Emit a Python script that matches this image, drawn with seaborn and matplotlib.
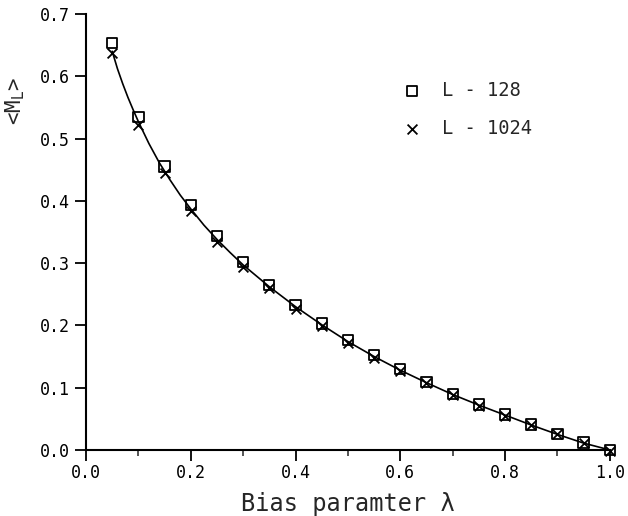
import numpy as np
import pandas as pd
import matplotlib
matplotlib.use("Agg")
import matplotlib.pyplot as plt
import seaborn as sns
from matplotlib.ticker import MultipleLocator

lam = [0.05, 0.10, 0.15, 0.20, 0.25, 0.30, 0.35, 0.40, 0.45, 0.50,
       0.55, 0.60, 0.65, 0.70, 0.75, 0.80, 0.85, 0.90, 0.95, 1.00]
m_128 = [0.653, 0.535, 0.455, 0.393, 0.343, 0.302, 0.265, 0.233, 0.203, 0.177,
         0.152, 0.130, 0.109, 0.090, 0.073, 0.057, 0.041, 0.026, 0.012, 0.000]
m_1024 = [0.638, 0.522, 0.444, 0.383, 0.334, 0.294, 0.260, 0.227, 0.199, 0.172,
          0.148, 0.127, 0.107, 0.088, 0.071, 0.055, 0.040, 0.025, 0.011, -0.002]
curve_x = [0.05, 0.06, 0.07, 0.08, 0.09, 0.10, 0.12, 0.14, 0.16, 0.18, 0.20, 0.225,
           0.25, 0.275, 0.30, 0.35, 0.40, 0.45, 0.50, 0.55, 0.60, 0.65, 0.70,
           0.75, 0.80, 0.85, 0.90, 0.95, 1.00]
curve_y = [0.640, 0.612, 0.588, 0.566, 0.546, 0.527, 0.492, 0.461, 0.434, 0.409,
           0.387, 0.361, 0.338, 0.317, 0.297, 0.262, 0.230, 0.201, 0.174, 0.150,
           0.128, 0.108, 0.089, 0.072, 0.056, 0.040, 0.025, 0.011, 0.000]

labels = ["L - 128", "L - 1024"]
xticks = [0.0, 0.2, 0.4, 0.6, 0.8, 1.0]
yticks = [0.0, 0.1, 0.2, 0.3, 0.4, 0.5, 0.6, 0.7]

sns.set_style("ticks")
plt.rcParams['font.family'] = ['DejaVu Sans Mono', 'DejaVu Sans']

fig = plt.figure(figsize=(6.28, 5.16), dpi=100)
ax = fig.add_axes([0.137, 0.128, 0.834, 0.845])

sns.lineplot(x=curve_x, y=curve_y, ax=ax, color="black", linewidth=1.2,
             estimator=None, sort=False, legend=False)
sns.scatterplot(x=lam, y=m_128, ax=ax, marker="s", s=55, facecolor="none",
                edgecolor="black", linewidth=1.3, label=labels[0], clip_on=False, zorder=3)
sns.scatterplot(x=lam, y=m_1024, ax=ax, marker="x", s=50, color="black",
                linewidth=1.3, label=labels[1], clip_on=False, zorder=3)

ax.set_xlim(0.0, 1.0)
ax.set_ylim(0.0, 0.7)
ax.set_xticks(xticks)
ax.set_xticklabels([f"{t:.1f}" for t in xticks])
ax.set_yticks(yticks)
ax.set_yticklabels([f"{t:.1f}" for t in yticks])
ax.xaxis.set_minor_locator(MultipleLocator(0.1))
ax.tick_params(axis="both", which="major", direction="out", length=8, width=1.3,
               labelsize=12, color="black", labelcolor="black")
ax.tick_params(axis="x", which="minor", direction="out", length=4, width=1.1)
ax.tick_params(axis="x", pad=2)
for s in ["left", "bottom"]:
    ax.spines[s].set_linewidth(1.5)
    ax.spines[s].set_color("black")
sns.despine(ax=ax)

ax.set_xlabel("Bias paramter λ", fontsize=17)
ax.xaxis.set_label_coords(0.5, -0.096)
ax.set_ylabel(r"<M$_\mathrm{L}$>", fontsize=15)
ax.yaxis.set_label_coords(-0.112, 0.80)

leg = ax.legend(loc="upper left", bbox_to_anchor=(0.555, 0.885), frameon=False,
                fontsize=13.5, handletextpad=0.6, labelspacing=1.0, markerscale=1.0)

fig.savefig("out.png", dpi=100, facecolor="white")
